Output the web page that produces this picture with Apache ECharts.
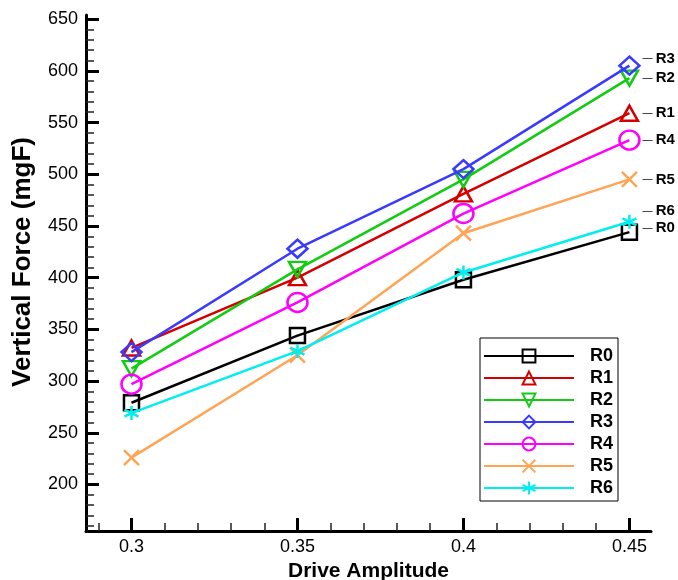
<!DOCTYPE html>
<html><head><meta charset="utf-8">
<script src="https://cdn.jsdelivr.net/npm/echarts@6/dist/echarts.min.js"></script>
<style>html,body{margin:0;padding:0;background:#fff}#c{width:678px;height:580px}</style>
</head><body><div id="c"></div>
<script>
const amplitudes = [0.3, 0.35, 0.4, 0.45];
const seriesNames = ['R0','R1','R2','R3','R4','R5','R6'];
const R0 = [279, 344, 398, 444];
const R1 = [332, 400, 481, 559];
const R2 = [312, 408, 495, 593];
const R3 = [328, 428, 505, 605];
const R4 = [297, 376, 462, 533];
const R5 = [226, 325, 443, 495];
const R6 = [269, 329, 405, 454];
const yTickLabels = [200, 250, 300, 350, 400, 450, 500, 550, 600, 650];
const xTickLabels = [0.3, 0.35, 0.4, 0.45];
const yMinorTicks = [160,170,180,190,210,220,230,240,260,270,280,290,310,320,330,340,360,370,380,390,410,420,430,440,460,470,480,490,510,520,530,540,560,570,580,590,610,620,630,640];
const xMinorTicks = [0.29,0.31,0.32,0.33,0.34,0.36,0.37,0.38,0.39,0.41,0.42,0.43,0.44];

const values = [R0,R1,R2,R3,R4,R5,R6];
const colors = ['#000000','#d40000','#11cc11','#3a3aff','#ff00ff','#ffa455','#00eeee'];
const symbols = ['rect','triangle','triangle','diamond','circle',
  'path://M0,0L10,10M10,0L0,10',
  'path://M5,0L5,10M0.7,2.5L9.3,7.5M0.7,7.5L9.3,2.5'];
const symRot = [0,0,180,0,0,0,0];
const symSizes = [[15,15],[17,15],[17,15],[20,18],[20,19],[15,15],[14,14]];
const labelDy = [-4, 0, 0, -7, 0, 0, -11];

const font = '"Liberation Sans", Arial, sans-serif';
const chart = echarts.init(document.getElementById('c'));

const series = seriesNames.map((n, i) => ({
  name: n, type: 'line',
  data: amplitudes.map((x, j) => [x, values[i][j]]),
  symbol: symbols[i], symbolSize: symSizes[i], symbolRotate: symRot[i],
  showAllSymbol: true,
  lineStyle: { color: colors[i], width: 2.5 },
  itemStyle: { color: 'rgba(255,255,255,0)', borderColor: colors[i], borderWidth: 2.5 },
  emphasis: { disabled: true },
  endLabel: {
    show: true, formatter: '{d|—} {t|' + n + '}', distance: 0, offset: [13, labelDy[i]],
    color: '#000',
    rich: {
      d: { fontFamily: font, fontWeight: 'normal', fontSize: 10, color: '#000' },
      t: { fontFamily: font, fontWeight: 'bold', fontSize: 15, color: '#000' }
    }
  },
  z: 2 + i
}));

chart.setOption({
  animation: false,
  backgroundColor: '#fff',
  grid: { left: 86, right: 27, top: 15, bottom: 49, containLabel: false, outerBoundsMode: 'none' },
  legend: {
    orient: 'vertical', left: 480, top: 338,
    data: seriesNames,
    itemWidth: 90, itemHeight: 16, itemGap: 4,
    padding: [9, 5, 4, 3],
    borderColor: '#000', borderWidth: 1, backgroundColor: '#fff',
    textStyle: { fontFamily: font, fontWeight: 'bold', fontSize: 18, color: '#000', padding: [0,0,0,11] }
  },
  xAxis: [{
    type: 'value', min: 0.2863, max: 0.4565,
    name: 'Drive Amplitude', nameLocation: 'middle', nameGap: 26,
    nameTextStyle: { fontFamily: font, fontWeight: 'bold', fontSize: 21, color: '#000' },
    axisLine: { show: true, onZero: false, lineStyle: { color: '#000', width: 3 } },
    axisTick: { show: true, inside: true, length: 13, lineStyle: { color: '#000', width: 3 }, customValues: xTickLabels },
    axisLabel: { customValues: xTickLabels, fontFamily: font, fontSize: 18, color: '#000', margin: 7 },
    splitLine: { show: false }
  }, {
    type: 'value', min: 0.2863, max: 0.4565, position: 'bottom', offset: 0,
    axisLine: { show: false },
    axisTick: { show: true, inside: true, length: 8, lineStyle: { color: '#222', width: 1.5 }, customValues: xMinorTicks },
    axisLabel: { show: false },
    splitLine: { show: false }
  }],
  yAxis: [{
    type: 'value', min: 155, max: 654,
    name: 'Vertical Force (mgF)', nameLocation: 'middle', nameGap: 50,
    nameTextStyle: { fontFamily: font, fontWeight: 'bold', fontSize: 26, color: '#000', padding: [0,0,0,22] },
    axisLine: { show: true, onZero: false, lineStyle: { color: '#000', width: 3 } },
    axisTick: { show: true, inside: true, length: 13, lineStyle: { color: '#000', width: 3 }, customValues: yTickLabels },
    axisLabel: { customValues: yTickLabels, fontFamily: font, fontSize: 18, color: '#000', margin: 8 },
    splitLine: { show: false }
  }, {
    type: 'value', min: 155, max: 654, position: 'left', offset: 0,
    axisLine: { show: false },
    axisTick: { show: true, inside: true, length: 8, lineStyle: { color: '#222', width: 1.5 }, customValues: yMinorTicks },
    axisLabel: { show: false },
    splitLine: { show: false }
  }],
  series: series
});
</script>
</body></html>
